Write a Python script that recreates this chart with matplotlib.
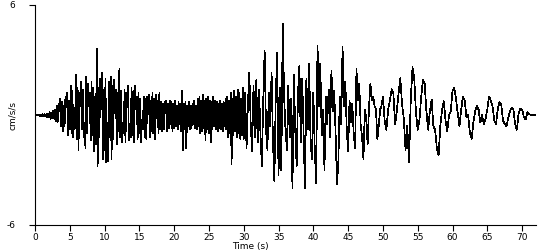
import numpy as np
import matplotlib.pyplot as plt

plt.rcParams["axes.unicode_minus"] = False

# Acceleration record, three blocks with their own sample step (s)
dt1 = 0.125
acc1 = [
    0, 0.02, -0.02, 0.03, -0.03, 0.02, -0.05, 0.03,
    -0.05, 0.04, -0.08, 0.05, -0.06, 0.04, -0.1, 0.05,
    -0.1, 0.15, -0.2, 0.1, -0.15, 0.25, -0.2, 0.3,
    -0.35, 0.5, -0.4, 0.6, 0.2, 0.9, -0.6, 0.7,
    -0.9, 0.5, -0.6, 1.0, 0.4, 1.2, -1.1, 0.8,
    -0.8, 1.6, -1.0, 1.3, -1.2, -0.3, -0.7, 2.2,
    -1.3, 1.5, -1.9, 1.2, 0.5, 1.8, -0.8, 1.4,
    -1.2, -0.4, -1.8, 2.1, -1.0, 1.7, 0.6, 1.2,
    -1.4, 1.8, -1.1, 1.5, -2.0, 1.0, -1.6, 3.6,
    -2.8, 1.5, -1.2, 2.0, 0.3, 2.3, -2.4, 1.4,
    -1.9, 2.0, -2.6, -0.4, -2.5, 1.8, -1.2, 2.1,
    -2.4, 1.6, -1.3, 1.9, 0.2, 1.4, -1.6, 1.2,
    -0.9, 2.5, -1.2, 1.3, -1.5, -0.4, -1.0, 1.4,
    -1.5, 1.2, 0.4, 1.6, -1.4, -0.6, -1.2, 1.5,
    -1.1, 1.3, -1.5, 1.6, 0.3, 1.0, -1.3, 1.2,
    -1.0, 0.9, -1.5, -0.3, -0.8, 1.0, -1.2, 0.9,
    -1.3, 1.0, 0.2, 1.1, -1.2, 0.8, -0.9, 1.2,
    -1.0, 0.9, -1.3, 1.1, -0.2, 0.8, -1.0, 1.2,
    -0.8, 0.7, -0.9, 0.6, -0.8, 0.7, 0.1, 0.8,
    -0.9, 0.6, -0.7, 0.8, -0.5, 0.7, -0.9, 0.6,
    -0.7, 0.8, -0.6, 0.5, -0.8, 0.7, -0.5, 0.6,
    -0.9, 1.3, -1.9, 0.6, -0.8, 0.7, -1.8, 0.5,
    -0.6, 0.7, -0.8, 0.5, -0.7, 0.6, -0.5, 0.8,
    -0.7, 0.5, -0.8, 0.9, -0.6, 1.0, -1.0, 0.8,
    -0.9, 1.1, -0.7, 0.8, -1.4, 0.9, -0.8, 1.0,
    -1.0, 0.8, -1.5, 0.7, -0.8, 1.0, -0.6, 0.8,
    -0.8, 0.7, -0.9, 0.6, -0.7, 0.8, -0.8, 0.6,
    -0.9, 0.7, -0.6, 0.9, -0.8, 1.0, -1.2, 0.8,
    -1.0, 1.2, -2.7, 0.9, -1.1, 1.3, -0.9, 1.0,
    -1.2, 1.4, -1.0, 1.2, -1.3, 0.9, -1.1, 1.5,
]

dt2 = 0.2
acc2 = [
    -1.3, 1.2, -1.8, 0.6, 2.3, -0.5, -2.0, 1.6, -1.2, 1.9,
    -1.5, 1.4, -1.0, -2.8, 0.8, 3.5, -0.8, -1.9, 1.2, -0.6,
    2.3, -1.5, -3.6, 1.0, 3.4, -3.3, 1.5, -3.0, 5.0, 1.0,
    -0.8, -1.9, 1.6, -1.2, 0.9, -4.0, 2.2, -0.8, -2.8, 1.2,
    2.7, -1.5, 2.0, -1.0, -4.0, 2.0, -0.8, 2.8, -1.5, -2.4,
    1.2, -1.8, -3.7, 3.8, 0.5, 2.8, -1.1, 0.3, -3.0, 1.0,
    -0.5, 1.4, -1.2, 2.4, 0.2, 1.3, -1.0, -3.8, -2.5, 1.0,
    -0.5, 3.7, 0.5, 1.8, -0.8, -2.0, 0.8, -0.4, 0.6, -1.0,
    -1.8, 2.5, 0.8, 1.7, -0.5, -1.2, -2.4, 0.3, -0.2, -1.6,
    0.4, 1.7, 0.8, 1.0, 0.5, 0.3, -1.3, -0.6, 0.3, 0.5,
]

dt3 = 0.25
acc3 = [
    1.0, -0.3, -0.8, 0.3, 0.8, 1.4, 1.2, -0.5,
    0.2, 1.2, 2.0, 0.6, -0.2, -1.9, -0.6, -2.6,
    0.8, 2.6, 2.0, 0.1, -0.8, -0.3, 1.0, 1.9,
    1.7, 0.2, -0.8, 0.2, 0.85, -0.6, -0.8, -1.8,
    -2.2, -0.6, 0.3, 0.75, -0.3, -0.9, 0.0, 0.2,
    1.3, 1.5, 0.9, 0.1, -0.6, 0.3, 1.0, 0.8,
    -0.1, 0.0, -1.0, -1.3, -0.4, 0.2, 0.5, 0.3,
    -0.4, 0.0, -0.5, -0.2, 0.3, 1.0, 0.8, 0.5,
    -0.3, -0.5, 0.3, 0.7, 0.6, -0.3, -0.5, -0.6,
    -0.2, 0.2, 0.4, 0.3, -0.5, -0.8, 0.1, 0.35,
    0.3, -0.1, -0.25, 0.15, 0.05, 0.0, 0.0, 0.0,
    0.0,
]

x_ticks = list(range(0, 75, 5))
y_ticks = [-6, 6]

# Time axis for each block
t1 = np.arange(len(acc1)) * dt1
t2 = 30 + np.arange(len(acc2)) * dt2
t3 = 50 + np.arange(len(acc3)) * dt3
time = np.concatenate([t1, t2, t3])
acc = np.concatenate([acc1, acc2, acc3])

fig = plt.figure(figsize=(5.5, 2.5), dpi=100)
ax = fig.add_axes([35 / 550, 25 / 250, 501 / 550, 220 / 250])

ax.plot(time, acc, color="black", linewidth=0.5, antialiased=False)

ax.set_xlim(0, 72)
ax.set_ylim(-6, 6)
ax.set_xticks(x_ticks)
ax.set_yticks(y_ticks)

for side in ["top", "right"]:
    ax.spines[side].set_visible(False)
for side in ["left", "bottom"]:
    ax.spines[side].set_linewidth(0.8)

ax.tick_params(axis="x", direction="out", length=4, width=0.8, pad=2, labelsize=6.5)
ax.tick_params(axis="y", direction="out", length=4, width=0.8, pad=10, labelsize=6.5)

ax.set_xlabel("Time (s)", fontsize=6.5)
ax.xaxis.set_label_coords(0.43, -0.077)
ax.set_ylabel("cm/s/s", fontsize=6.5)
ax.yaxis.set_label_coords(-0.036, 0.5)

fig.savefig("out.png", dpi=100)
